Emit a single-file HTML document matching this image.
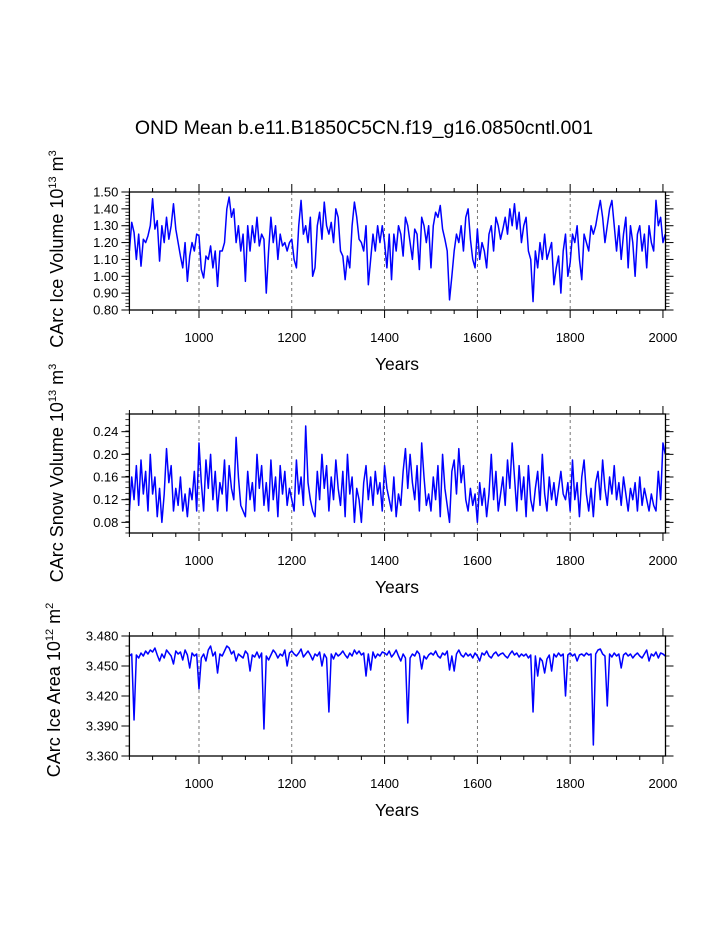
<!DOCTYPE html>
<html><head><meta charset="utf-8"><style>
html,body{margin:0;padding:0;background:#fff;}
svg{display:block;font-family:"Liberation Sans",Arial,sans-serif;}
</style></head><body>
<svg id="chart" width="723" height="935" viewBox="0 0 723 935">
<text x="364" y="134" font-size="19.5" text-anchor="middle">OND Mean b.e11.B1850C5CN.f19_g16.0850cntl.001</text>
</svg>
<script>
// ---- data (5-year steps from 850 to 2005) ----
const startYear = 850;
const stepYears = 5;
const iceVolume = [
1.15,1.32,1.26,1.10,1.25,1.06,1.22,1.20,1.24,1.30,
1.46,1.28,1.33,1.09,1.30,1.20,1.35,1.22,1.30,1.43,
1.28,1.20,1.12,1.05,1.20,0.97,1.12,1.20,1.15,1.25,
1.24,1.04,0.99,1.12,1.10,1.18,1.05,1.15,0.94,1.15,
1.15,1.20,1.40,1.47,1.35,1.40,1.20,1.30,1.15,1.25,
0.97,1.30,1.15,1.30,1.20,1.35,1.18,1.25,1.22,0.90,
1.15,1.35,1.20,1.30,1.10,1.25,1.18,1.20,1.15,1.20,
1.22,1.10,1.05,1.30,1.45,1.25,1.30,1.20,1.35,1.00,
1.05,1.30,1.38,1.22,1.44,1.30,1.25,1.32,1.20,1.40,
1.35,1.15,1.12,0.98,1.12,1.05,1.30,1.44,1.35,1.22,
1.20,1.15,1.30,0.95,1.10,1.25,1.15,1.30,1.20,1.30,
1.20,1.05,1.25,0.98,1.25,1.15,1.30,1.25,1.12,1.35,
1.30,1.20,1.10,1.28,1.25,1.04,1.35,1.30,1.20,1.30,
1.05,1.30,1.38,1.35,1.42,1.28,1.22,1.15,0.86,1.00,
1.15,1.25,1.20,1.30,1.15,1.35,1.40,1.22,1.10,1.05,
1.28,1.10,1.20,1.15,1.05,1.25,1.30,1.15,1.35,1.30,
1.22,1.28,1.35,1.25,1.40,1.30,1.43,1.28,1.38,1.20,
1.30,1.35,1.15,1.10,0.85,1.15,1.05,1.20,1.10,1.25,
1.10,1.15,1.20,0.95,1.05,1.12,0.90,1.15,1.25,1.00,
1.08,1.25,1.20,1.30,1.10,0.98,1.25,1.20,1.15,1.30,
1.25,1.30,1.38,1.45,1.35,1.20,1.30,1.40,1.45,1.30,
1.15,1.30,1.10,1.25,1.35,1.05,1.30,1.20,1.00,1.25,
1.30,1.15,1.25,1.05,1.30,1.20,1.15,1.45,1.30,1.35,1.20,1.25];
const snowVolume = [
0.10,0.16,0.12,0.18,0.11,0.19,0.13,0.17,0.10,0.20,
0.13,0.16,0.09,0.14,0.08,0.13,0.21,0.15,0.18,0.10,
0.14,0.11,0.16,0.10,0.13,0.09,0.14,0.12,0.17,0.10,
0.22,0.15,0.10,0.19,0.14,0.20,0.12,0.17,0.10,0.15,
0.13,0.19,0.10,0.18,0.14,0.12,0.23,0.16,0.11,0.10,
0.09,0.17,0.12,0.15,0.10,0.20,0.14,0.18,0.11,0.15,
0.10,0.19,0.12,0.16,0.09,0.18,0.13,0.17,0.11,0.14,
0.12,0.10,0.19,0.13,0.16,0.11,0.25,0.15,0.12,0.10,
0.09,0.17,0.12,0.20,0.14,0.18,0.10,0.16,0.12,0.19,
0.14,0.11,0.17,0.09,0.20,0.13,0.16,0.08,0.14,0.12,
0.08,0.15,0.18,0.12,0.16,0.11,0.17,0.13,0.15,0.10,
0.18,0.14,0.12,0.10,0.16,0.09,0.13,0.11,0.17,0.21,
0.14,0.20,0.15,0.12,0.18,0.10,0.22,0.16,0.11,0.13,
0.10,0.16,0.12,0.18,0.09,0.20,0.14,0.11,0.08,0.17,
0.19,0.13,0.21,0.15,0.18,0.12,0.10,0.14,0.11,0.13,
0.08,0.15,0.11,0.14,0.09,0.13,0.20,0.12,0.17,0.10,
0.13,0.16,0.11,0.19,0.14,0.22,0.16,0.10,0.18,0.12,
0.16,0.09,0.18,0.12,0.10,0.14,0.17,0.11,0.20,0.13,
0.10,0.16,0.12,0.15,0.11,0.14,0.17,0.13,0.12,0.15,
0.10,0.19,0.12,0.15,0.09,0.16,0.19,0.13,0.10,0.14,
0.09,0.15,0.17,0.12,0.19,0.14,0.11,0.16,0.13,0.18,
0.12,0.15,0.11,0.16,0.13,0.10,0.14,0.12,0.15,0.10,
0.16,0.11,0.14,0.12,0.10,0.13,0.11,0.10,0.17,0.12,0.22,0.20];
const iceArea = [
3.460,3.462,3.396,3.461,3.458,3.463,3.460,3.465,3.462,3.466,
3.464,3.468,3.461,3.455,3.462,3.458,3.466,3.463,3.460,3.452,
3.465,3.462,3.464,3.456,3.466,3.461,3.448,3.463,3.460,3.462,
3.427,3.458,3.462,3.455,3.466,3.470,3.460,3.464,3.443,3.462,
3.460,3.465,3.470,3.468,3.462,3.465,3.455,3.462,3.460,3.458,
3.465,3.462,3.445,3.461,3.459,3.464,3.458,3.463,3.387,3.460,
3.456,3.461,3.466,3.463,3.458,3.462,3.460,3.466,3.450,3.463,
3.465,3.462,3.460,3.463,3.467,3.459,3.462,3.465,3.461,3.456,
3.462,3.460,3.464,3.450,3.462,3.458,3.404,3.462,3.457,3.463,
3.460,3.462,3.465,3.461,3.458,3.463,3.460,3.466,3.462,3.465,
3.461,3.463,3.440,3.462,3.446,3.464,3.458,3.462,3.460,3.464,
3.463,3.461,3.465,3.459,3.462,3.466,3.460,3.455,3.462,3.458,
3.393,3.458,3.462,3.460,3.465,3.462,3.447,3.460,3.457,3.461,
3.463,3.461,3.465,3.460,3.458,3.463,3.461,3.465,3.446,3.460,
3.445,3.462,3.466,3.461,3.459,3.463,3.460,3.462,3.458,3.463,
3.460,3.455,3.463,3.461,3.465,3.460,3.458,3.462,3.464,3.460,
3.462,3.463,3.460,3.458,3.462,3.465,3.461,3.463,3.459,3.462,
3.460,3.462,3.458,3.461,3.404,3.460,3.440,3.458,3.455,3.443,
3.457,3.461,3.445,3.462,3.459,3.463,3.460,3.462,3.420,3.461,
3.463,3.460,3.462,3.455,3.461,3.462,3.460,3.463,3.461,3.462,
3.371,3.462,3.466,3.467,3.462,3.460,3.410,3.462,3.459,3.463,
3.460,3.462,3.448,3.461,3.463,3.460,3.462,3.458,3.461,3.463,
3.460,3.458,3.462,3.466,3.455,3.462,3.460,3.464,3.458,3.463,3.462,3.460];
const xTickLabels = ["1000","1200","1400","1600","1800","2000"];
const iceVolTicks = ["0.80","0.90","1.00","1.10","1.20","1.30","1.40","1.50"];
const snowTicks = ["0.08","0.12","0.16","0.20","0.24"];
const areaTicks = ["3.360","3.390","3.420","3.450","3.480"];

const NS = "http://www.w3.org/2000/svg";
const svg = document.getElementById('chart');
const X0 = 129.4, X1 = 665.5, YR0 = 850, YR1 = 2005.5;
function xScale(yr){ return X0 + (yr - YR0) / (YR1 - YR0) * (X1 - X0); }
function mk(tag, attrs, parent){
  const e = document.createElementNS(NS, tag);
  for (const k in attrs) e.setAttribute(k, attrs[k]);
  (parent || svg).appendChild(e);
  return e;
}

function panel(cfg){
  const g = mk('g', {});
  
  
  const top = cfg.top, bot = cfg.bot;
  const yScale = v => bot - (v - cfg.ymin) / (cfg.ymax - cfg.ymin) * (bot - top);
  for (let yr = 1000; yr <= 1800; yr += 200) {
    const l = mk('line', {x1: xScale(yr), x2: xScale(yr), y1: top, y2: bot, stroke: '#555', 'stroke-width': 0.8, 'stroke-dasharray': '3,3'}, g);
    
    
  }
  let d = '';
  cfg.data.forEach((v, i) => {
    const yr = startYear + i * stepYears;
    d += (i ? 'L' : 'M') + xScale(yr).toFixed(2) + ',' + yScale(v).toFixed(2);
  });
  const p = mk('path', {d: d, fill: 'none', stroke: '#0000ff', 'stroke-width': 1.5, 'stroke-linejoin': 'round'}, g);
  
  
  const r = mk('rect', {x: X0, y: top, width: X1 - X0, height: bot - top, fill: 'none', stroke: '#000', 'stroke-width': 1.3}, g);
  
  
  for (let yr = 850; yr <= 2000; yr += 50) {
    const x = xScale(yr), major = yr % 200 === 0;
    const len = major ? 8 : 4;
    mk('line', {x1: x, x2: x, y1: top, y2: top - len, stroke: '#000', 'stroke-width': 1}, g);
    mk('line', {x1: x, x2: x, y1: bot, y2: bot + len, stroke: '#000', 'stroke-width': 1}, g);
  }
  xTickLabels.forEach(s => {
    const t = mk('text', {x: xScale(+s), y: bot + 32, 'font-size': 13, 'text-anchor': 'middle'}, g);
    t.textContent = s;
    
    
  });
  const xt = mk('text', {x: 397, y: bot + 60, 'font-size': 17.5, 'text-anchor': 'middle'}, g);
  xt.textContent = 'Years';
  
  
  for (let v = cfg.ymin; v <= cfg.ymax + 1e-9; v += cfg.minor) {
    const y = yScale(v);
    if (y < top - 0.5 || y > bot + 0.5) continue;
    mk('line', {x1: X0, x2: X0 - 4, y1: y, y2: y, stroke: '#000', 'stroke-width': 0.8}, g);
    mk('line', {x1: X1, x2: X1 + 4, y1: y, y2: y, stroke: '#000', 'stroke-width': 0.8}, g);
  }
  cfg.ticks.forEach(s => {
    const y = yScale(+s);
    mk('line', {x1: X0, x2: X0 - 8, y1: y, y2: y, stroke: '#000', 'stroke-width': 1}, g);
    mk('line', {x1: X1, x2: X1 + 8, y1: y, y2: y, stroke: '#000', 'stroke-width': 1}, g);
    const t = mk('text', {x: X0 - 11, y: y + 4.5, 'font-size': 13, 'text-anchor': 'end'}, g);
    t.textContent = s;
    
    
  });
  const yt = mk('text', {transform: 'translate(' + cfg.tx + ',' + cfg.ty + ') rotate(-90)', 'font-size': 18, 'text-anchor': 'middle'}, g);
  
  
  yt.innerHTML = cfg.title;
}

panel({name: 'ice-volume-panel', top: 192, bot: 310, ymin: 0.80, ymax: 1.50, minor: 0.02,
  data: iceVolume, ticks: iceVolTicks, tx: 63, ty: 249,
  title: 'CArc Ice Volume 10<tspan dy="-7" font-size="11">13</tspan><tspan dy="7"> m</tspan><tspan dy="-7" font-size="11">3</tspan>'});
panel({name: 'snow-volume-panel', top: 414, bot: 533, ymin: 0.0612, ymax: 0.2712, minor: 0.01,
  data: snowVolume, ticks: snowTicks, tx: 63, ty: 473,
  title: 'CArc Snow Volume 10<tspan dy="-7" font-size="11">13</tspan><tspan dy="7"> m</tspan><tspan dy="-7" font-size="11">3</tspan>'});
panel({name: 'ice-area-panel', top: 636, bot: 756, ymin: 3.360, ymax: 3.480, minor: 0.01,
  data: iceArea, ticks: areaTicks, tx: 60, ty: 690,
  title: 'CArc Ice Area 10<tspan dy="-7" font-size="11">12</tspan><tspan dy="7"> m</tspan><tspan dy="-7" font-size="11">2</tspan>'});
</script>
</body></html>
